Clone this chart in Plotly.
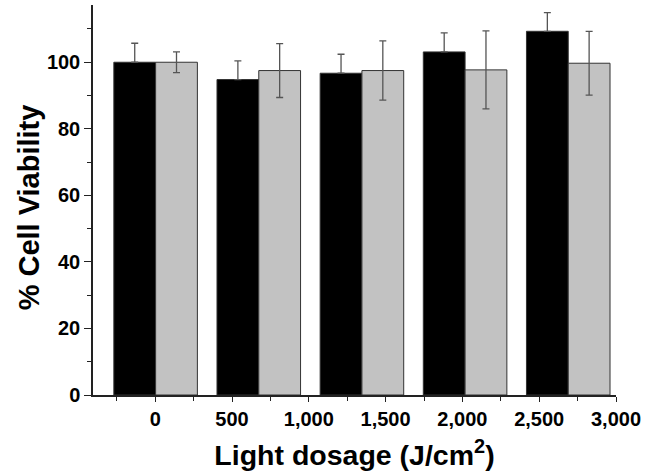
import plotly.graph_objects as go

# Data
groups = [0, 1, 2, 3, 4]  # bar group index (5 paired groups)
black_vals = [100.0, 94.8, 96.7, 103.1, 109.3]
black_err = [5.7, 5.6, 5.7, 5.7, 5.6]
gray_vals = [100.0, 97.5, 97.5, 97.7, 99.7]
gray_err = [3.1, 8.1, 8.9, 11.7, 9.6]

dose_ticks = [0, 500, 1000, 1500, 2000, 2500, 3000]
dose_labels = ["0", "500", "1,000", "1,500", "2,000", "2,500", "3,000"]

FONT = "Liberation Sans, Arial, sans-serif"

fig = go.Figure()
fig.add_trace(go.Bar(
    x=groups, y=black_vals, name="black",
    marker=dict(color="#000000", line=dict(color="#333333", width=1)),
    # lower half of the black bars' error bars is hidden inside the bar
    error_y=dict(type="data", symmetric=False, array=black_err,
                 arrayminus=[0] * len(black_err), visible=True,
                 color="#555555", thickness=1.3, width=3.5),
    xaxis="x", yaxis="y",
))
fig.add_trace(go.Bar(
    x=groups, y=gray_vals, name="gray",
    marker=dict(color="#c2c2c2", line=dict(color="#333333", width=1)),
    error_y=dict(type="data", array=gray_err, visible=True,
                 color="#555555", thickness=1.3, width=3.5),
    xaxis="x", yaxis="y",
))
# invisible trace to carry the dosage axis
fig.add_trace(go.Scatter(
    x=dose_ticks, y=[None] * len(dose_ticks), mode="markers",
    marker=dict(opacity=0), showlegend=False, hoverinfo="skip",
    xaxis="x2", yaxis="y",
))

fig.update_layout(
    width=646, height=472,
    margin=dict(l=93, r=27, t=5, b=77),
    paper_bgcolor="white", plot_bgcolor="white",
    showlegend=False,
    barmode="group", bargap=0.19, bargroupgap=0,
    font=dict(family=FONT, color="#000000"),
    xaxis=dict(
        range=[-0.607, 4.463], visible=False, showgrid=False, zeroline=False,
    ),
    xaxis2=dict(
        overlaying="x", anchor="y", side="bottom",
        range=[-405, 3000],
        tickmode="array", tickvals=dose_ticks, ticktext=dose_labels,
        ticks="outside", ticklen=5, tickwidth=1.3, tickcolor="#222222",
        minor=dict(dtick=250, ticks="outside", ticklen=4, tickwidth=1.3,
                   tickcolor="#222222", tick0=-250),
        showline=True, linecolor="#222222", linewidth=1.5,
        showgrid=False, zeroline=False,
        tickfont=dict(family=FONT, size=20, color="#000000", weight="bold"),
        title=dict(text="<b>Light dosage (J/cm<sup>2</sup>)</b>",
                   font=dict(family=FONT, size=28.5, color="#000000"),
                   standoff=16),
    ),
    yaxis=dict(
        range=[0, 117.2],
        tickmode="array", tickvals=[0, 20, 40, 60, 80, 100],
        ticks="outside", ticklen=7, tickwidth=1.3, tickcolor="#222222",
        minor=dict(tickvals=[10, 30, 50, 70, 90, 110], ticks="outside",
                   ticklen=4, tickwidth=1.3, tickcolor="#222222"),
        showline=True, linecolor="#222222", linewidth=1.5,
        showgrid=False, zeroline=False,
        tickfont=dict(family=FONT, size=20, color="#000000", weight="bold"),
    ),
    annotations=[dict(
        text="<b>% Cell Viability</b>", textangle=-90,
        xref="paper", yref="paper",
        x=(29 - 93) / 526, y=(395 - 207) / 390,
        xanchor="center", yanchor="middle", showarrow=False,
        font=dict(family=FONT, size=29, color="#000000"),
    )],
)

fig.write_html("out.html")
